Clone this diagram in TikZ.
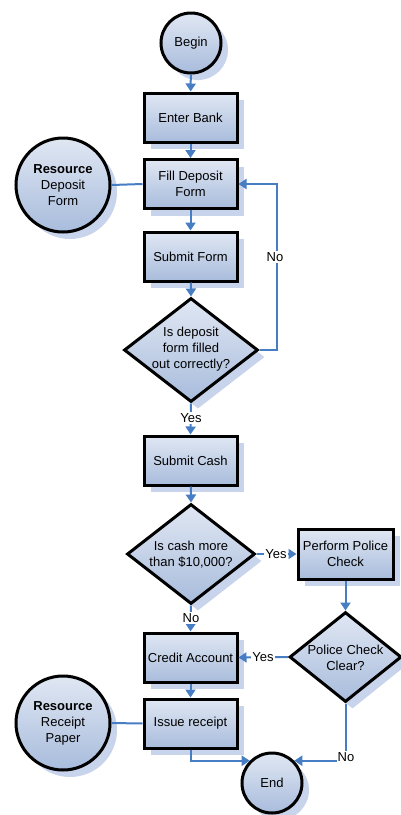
\documentclass[tikz,border=0pt]{standalone}
\usepackage{fontspec}
\setmainfont{Liberation Sans}
\usetikzlibrary{arrows.meta,shapes.geometric,shadows}
\definecolor{conn}{RGB}{70,125,195}
\definecolor{shad}{RGB}{200,212,235}
\definecolor{ftop}{RGB}{224,231,243}
\definecolor{fbot}{RGB}{168,188,220}
\tikzset{
  x=1pt, y=-1pt,
  every node/.style={font=\fontsize{13}{16}\selectfont},
  sh/.style={drop shadow={shadow xshift=7pt, shadow yshift=-7pt, fill=shad, opacity=1}},
  base/.style={draw=black, line width=3pt, top color=ftop, bottom color=fbot, sh},
  stepbox/.style={base, rectangle, minimum width=93, minimum height=49, inner sep=0pt, align=center},
  wide/.style={base, rectangle, minimum width=95, minimum height=50, inner sep=0pt, align=center},
  term/.style={base, circle, minimum size=60, inner sep=0pt},
  res/.style={base, circle, minimum size=94, inner sep=0pt, align=center},
  dia/.style={base, diamond, inner sep=0pt},
  dtext/.style={align=center},
  line/.style={draw=conn, line width=2pt},
  arr/.style={line, -{Triangle[width=10pt,length=8pt]}},
  lbl/.style={fill=white, inner sep=1pt}
}
\begin{document}
\begin{tikzpicture}
\useasboundingbox (0,0) rectangle (400,815);

% nodes
\node[term] (begin) at (191,43) {Begin};
\node[stepbox] (enter) at (190.5,117.5) {Enter Bank};
\node[stepbox] (fill) at (190.5,184) {Fill Deposit\\Form};
\node[res] (res1) at (63,185) {\textbf{Resource}\\Deposit\\Form};
\node[stepbox] (submitf) at (190.5,256.5) {Submit Form};
\node[dia, minimum width=134, minimum height=104] (d1) at (191,350) {};
\node[dtext] (d1t) at (191,349) {Is deposit\\form filled\\out correctly?};
\node[stepbox] (submitc) at (190.5,460.5) {Submit Cash};
\node[dia, minimum width=128, minimum height=100] (d2) at (191,554) {};
\node[dtext] (d2t) at (191,555) {Is cash more\\than \$10,000?};
\node[wide] (police) at (345.5,554) {Perform Police\\Check};
\node[dia, minimum width=112, minimum height=90] (d3) at (345.5,657) {};
\node[dtext] (d3t) at (345.5,658) {Police Check\\Clear?};
\node[stepbox] (credit) at (190.5,657.5) {Credit Account};
\node[stepbox] (issue) at (190.5,723.5) {Issue receipt};
\node[res] (res2) at (63,723) {\textbf{Resource}\\Receipt\\Paper};
\node[term] (end) at (272,783) {End};

% connectors
\draw[arr] (begin) -- (enter);
\draw[arr] (enter) -- (fill);
\draw[line] (res1.east) -- (fill.west);
\draw[arr] (fill) -- (submitf);
\draw[arr] (submitf) -- (d1.north);
\draw[arr] (d1.east) -- ([xshift=17pt]d1.east) |- (fill.east);
\node[lbl] (no1) at (275,257) {No};
\draw[arr] (d1.south) -- (submitc.north);
\node[lbl] (yes1) at (191,418) {Yes};
\draw[arr] (submitc) -- (d2.north);
\draw[arr] (d2.east) -- (police.west);
\node[lbl] (yes2) at (276,554) {Yes};
\draw[arr] (police.south) -- (d3.north);
\draw[arr] (d3.west) -- (credit.east);
\node[lbl] (yes3) at (263,657) {Yes};
\draw[arr] (d2.south) -- (credit.north);
\node[lbl] (no2) at (191,618) {No};
\draw[arr] (credit) -- (issue);
\draw[line] (res2.east) -- (issue.west);
\draw[arr] (issue.south) |- (end.north west);
\draw[arr] (d3.south) |- (end.north east);
\node[lbl] (no3) at (346,757) {No};
\end{tikzpicture}
\end{document}
